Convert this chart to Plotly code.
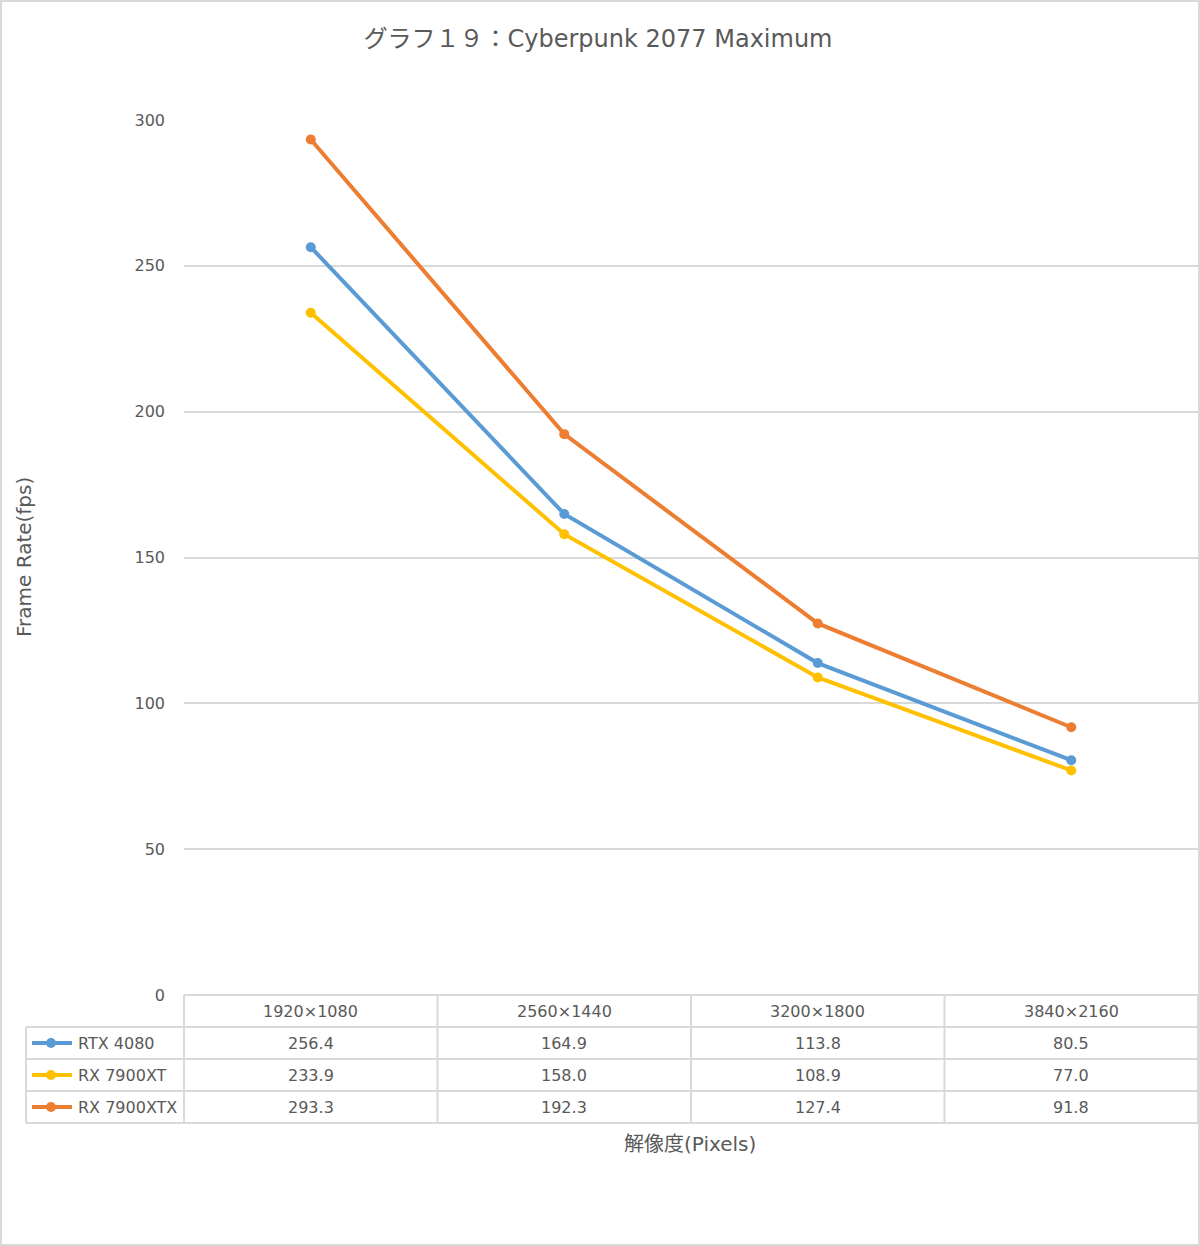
import plotly.graph_objects as go

categories = ["1920×1080", "2560×1440", "3200×1800", "3840×2160"]
series_names = ["RTX 4080", "RX 7900XT", "RX 7900XTX"]
rtx4080 = [256.4, 164.9, 113.8, 80.5]
rx7900xt = [233.9, 158.0, 108.9, 77.0]
rx7900xtx = [293.3, 192.3, 127.4, 91.8]
y_ticks = [0, 50, 100, 150, 200, 250, 300]

series_values = [rtx4080, rx7900xt, rx7900xtx]
colors = ["#5B9BD5", "#FFC000", "#ED7D31"]

W, H = 1200, 1246
L, R, T, B = 184, 2, 120, 251
PW = W - L - R
PH = H - T - B

def px_x(x):
    return (x - L) / PW

def px_y(y):
    return (H - B - y) / PH

FONT = "DejaVu Sans, Noto Sans CJK JP, sans-serif"
TXT = "#595959"
GRID = "#d9d9d9"

fig = go.Figure()
xs = list(range(len(categories)))
for name, vals, c in zip(series_names, series_values, colors):
    fig.add_trace(go.Scatter(x=xs, y=vals, mode="lines+markers", name=name,
                             line=dict(color=c, width=4),
                             marker=dict(color=c, size=10)))

shapes = []
annotations = []

shapes.append(dict(type="rect", xref="paper", yref="paper",
                   x0=px_x(1), x1=px_x(W - 1), y0=px_y(H - 1), y1=px_y(1),
                   line=dict(color="#d9d9d9", width=2), layer="below"))

header_top, row_h = H - B, 32
row_tops = [header_top + row_h * i for i in range(5)]
table_left = 26

shapes.append(dict(type="line", xref="paper", yref="paper", x0=0, x1=1,
                   y0=px_y(row_tops[0]), y1=px_y(row_tops[0]), line=dict(color=GRID, width=2)))
for rt in row_tops[1:]:
    shapes.append(dict(type="line", xref="paper", yref="paper", x0=px_x(table_left), x1=1,
                       y0=px_y(rt), y1=px_y(rt), line=dict(color=GRID, width=2)))
shapes.append(dict(type="line", xref="paper", yref="paper", x0=px_x(table_left), x1=px_x(table_left),
                   y0=px_y(row_tops[1]), y1=px_y(row_tops[4]), line=dict(color=GRID, width=2)))
for xv in [0, 1]:
    shapes.append(dict(type="line", xref="paper", yref="paper", x0=xv, x1=xv,
                       y0=px_y(row_tops[0]), y1=px_y(row_tops[4]), line=dict(color=GRID, width=2)))
for i in range(len(categories) - 1):
    shapes.append(dict(type="line", xref="x", yref="paper", x0=i + 0.5, x1=i + 0.5,
                       y0=px_y(row_tops[0]), y1=px_y(row_tops[4]), line=dict(color=GRID, width=2)))

hc = px_y(row_tops[0] + row_h / 2)
for i, cat in enumerate(categories):
    annotations.append(dict(x=i, y=hc, xref="x", yref="paper", text=cat, showarrow=False,
                            xanchor="center", yanchor="middle",
                            font=dict(size=16, color=TXT, family=FONT)))

for r, (name, vals, c) in enumerate(zip(series_names, series_values, colors)):
    cy = px_y(row_tops[r + 1] + row_h / 2)
    shapes.append(dict(type="line", xref="paper", yref="paper", x0=px_x(32), x1=px_x(72),
                       y0=cy, y1=cy, line=dict(color=c, width=4)))
    shapes.append(dict(type="circle", xref="paper", yref="paper", xsizemode="pixel", ysizemode="pixel",
                       xanchor=px_x(51), yanchor=cy, x0=-5, x1=5, y0=-5, y1=5,
                       fillcolor=c, line=dict(color=c, width=0)))
    annotations.append(dict(x=px_x(76), y=cy, xref="paper", yref="paper", text=name, showarrow=False,
                            xanchor="left", yanchor="middle",
                            font=dict(size=16, color=TXT, family=FONT)))
    for i, v in enumerate(vals):
        annotations.append(dict(x=i, y=cy, xref="x", yref="paper", text=f"{v:.1f}", showarrow=False,
                                xanchor="center", yanchor="middle",
                                font=dict(size=16, color=TXT, family=FONT)))

annotations.append(dict(x=px_x(24), y=px_y(557), xref="paper", yref="paper", text="Frame Rate(fps)",
                        textangle=-90, showarrow=False, xanchor="center", yanchor="middle",
                        font=dict(size=20, color=TXT, family=FONT)))
annotations.append(dict(x=px_x(690), y=px_y(1144), xref="paper", yref="paper", text="解像度(Pixels)",
                        showarrow=False, xanchor="center", yanchor="middle",
                        font=dict(size=20, color=TXT, family=FONT)))

fig.update_layout(
    width=W, height=H,
    margin=dict(l=L, r=R, t=T, b=B),
    paper_bgcolor="white", plot_bgcolor="white",
    showlegend=False,
    title=dict(text="グラフ１９：Cyberpunk 2077 Maximum", x=598 / W, xanchor="center",
               y=1 - 39 / H, yanchor="middle", font=dict(size=24, color=TXT, family=FONT)),
    xaxis=dict(range=[-0.5, len(categories) - 0.5], showticklabels=False, showgrid=False,
               zeroline=False, showline=False, ticks=""),
    yaxis=dict(range=[0, 300], tickvals=y_ticks, showgrid=True, gridcolor=GRID, gridwidth=1.5,
               zeroline=False, showline=False, ticks="", ticklabelstandoff=18,
               tickfont=dict(size=16, color=TXT, family=FONT)),
    shapes=shapes, annotations=annotations,
)

fig.write_html("out.html", config={"displayModeBar": False},
               post_script="document.body.style.margin='0';document.body.style.padding='0';")
